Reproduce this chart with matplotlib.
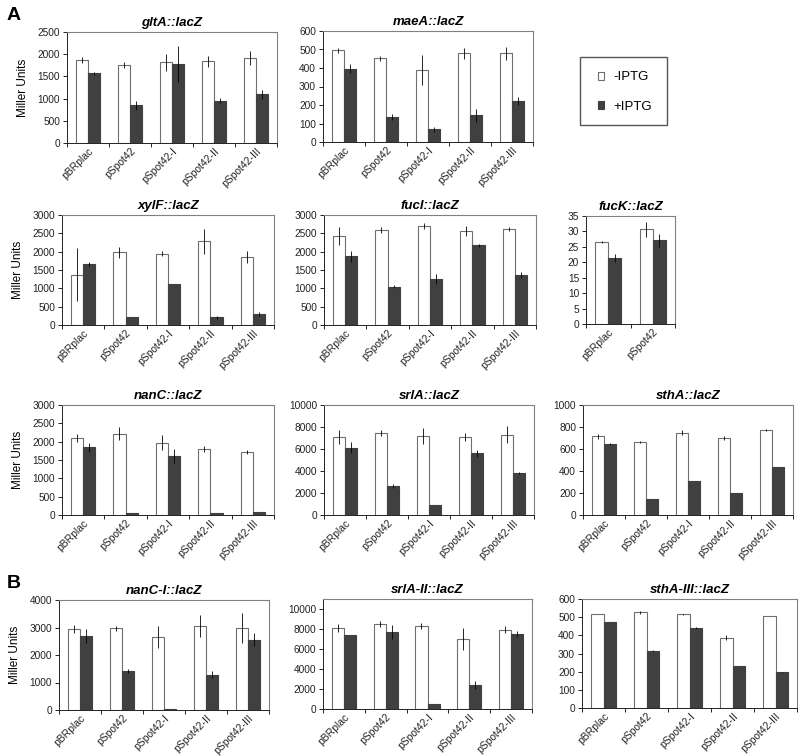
import matplotlib
matplotlib.use("Agg")
import matplotlib.pyplot as plt
from matplotlib.patches import Patch, Rectangle

plt.rcParams['font.family'] = ['Liberation Sans', 'DejaVu Sans']

cats5 = ["pBRplac", "pSpot42", "pSpot42-I", "pSpot42-II", "pSpot42-III"]
cats2 = ["pBRplac", "pSpot42"]

# gltA::lacZ
gltA_minus = [1870, 1760, 1820, 1840, 1920]
gltA_minus_err = [70, 60, 190, 120, 160]
gltA_plus = [1570, 850, 1780, 950, 1100]
gltA_plus_err = [30, 100, 400, 60, 100]

# maeA::lacZ
maeA_minus = [495, 452, 390, 480, 480]
maeA_minus_err = [15, 15, 80, 30, 35]
maeA_plus = [397, 135, 68, 145, 220]
maeA_plus_err = [25, 15, 12, 35, 22]

# xylF::lacZ
xylF_minus = [1370, 1990, 1950, 2280, 1860]
xylF_minus_err = [720, 150, 80, 350, 170]
xylF_plus = [1670, 210, 1130, 210, 300]
xylF_plus_err = [60, 0, 0, 40, 60]

# fucI::lacZ
fucI_minus = [2420, 2580, 2700, 2560, 2620]
fucI_minus_err = [240, 80, 80, 130, 60]
fucI_plus = [1870, 1050, 1260, 2170, 1360]
fucI_plus_err = [140, 30, 140, 40, 80]

# fucK::lacZ
fucK_minus = [26.6, 30.7]
fucK_minus_err = [0.3, 2.5]
fucK_plus = [21.4, 27.1]
fucK_plus_err = [1.2, 2.2]

# nanC::lacZ
nanC_minus = [2100, 2220, 1970, 1800, 1710]
nanC_minus_err = [100, 180, 200, 90, 50]
nanC_plus = [1850, 50, 1610, 50, 70]
nanC_plus_err = [120, 0, 200, 0, 0]

# srlA::lacZ
srlA_minus = [7100, 7450, 7200, 7100, 7300]
srlA_minus_err = [600, 300, 700, 400, 750]
srlA_plus = [6100, 2650, 950, 5600, 3850]
srlA_plus_err = [500, 150, 0, 300, 100]

# sthA::lacZ
sthA_minus = [715, 665, 750, 698, 772]
sthA_minus_err = [20, 10, 25, 20, 12]
sthA_plus = [648, 148, 313, 200, 440]
sthA_plus_err = [10, 0, 0, 0, 0]

# nanC-I::lacZ
nanCI_minus = [2950, 2970, 2640, 3060, 2970]
nanCI_minus_err = [150, 80, 400, 400, 550]
nanCI_plus = [2680, 1420, 50, 1290, 2560]
nanCI_plus_err = [250, 80, 0, 120, 250]

# srlA-II::lacZ
srlAII_minus = [8100, 8500, 8350, 7000, 7950]
srlAII_minus_err = [400, 300, 300, 1100, 350]
srlAII_plus = [7450, 7750, 550, 2450, 7550]
srlAII_plus_err = [0, 700, 0, 400, 300]

# sthA-III::lacZ
sthAIII_minus = [517, 528, 515, 388, 505]
sthAIII_minus_err = [2, 8, 3, 12, 0]
sthAIII_plus = [475, 315, 440, 232, 196]
sthAIII_plus_err = [0, 3, 5, 0, 2]

W, H = 800, 756
fig = plt.figure(figsize=(W / 100, H / 100), dpi=100)

DARK = "#404040"
EDGE = "#6e6e6e"


def rect(l, t, r, b):
    return [l / W, 1 - b / H, (r - l) / W, (b - t) / H]


def panel(box, title, cats, mn, mn_e, pl, pl_e, ymax, ystep, ytop=None, ylabel=False):
    ax = fig.add_axes(rect(*box))
    n = len(cats)
    w = 0.29
    x = list(range(n))
    xm = [i - w / 2 for i in x]
    xp = [i + w / 2 for i in x]
    ax.bar(xm, mn, width=w, color="white", edgecolor=EDGE, linewidth=0.8, zorder=2)
    ax.bar(xp, pl, width=w, color=DARK, edgecolor=DARK, linewidth=0.8, zorder=2)
    ax.errorbar(xm, mn, yerr=mn_e, fmt="none", ecolor="black", elinewidth=0.6, capsize=0, zorder=3)
    ax.errorbar(xp, pl, yerr=pl_e, fmt="none", ecolor="black", elinewidth=0.6, capsize=0, zorder=3)
    ax.set_xlim(-0.5, n - 0.5)
    top = ytop if ytop is not None else ymax
    ax.set_ylim(0, top)
    ticks = []
    v = 0
    while v <= ymax + 1e-9:
        ticks.append(v)
        v += ystep
    ax.set_yticks(ticks)
    ax.set_yticklabels([("%g" % t) for t in ticks], fontsize=7.3, color="#222222")
    ax.set_xticks([i - 0.5 for i in range(n + 1)])
    ax.set_xticklabels([])
    ax.set_xticks(x, minor=True)
    ax.set_xticklabels(cats, minor=True, rotation=45, ha="right", rotation_mode="anchor",
                       fontsize=7.5, color="#222222")
    ax.tick_params(axis="x", which="minor", length=0, pad=2)
    ax.tick_params(axis="x", which="major", direction="out", length=3, width=0.6)
    ax.tick_params(axis="y", direction="out", length=3, width=0.6, pad=2)
    for s in ("top", "right"):
        ax.spines[s].set_color("#808080")
        ax.spines[s].set_linewidth(0.8)
    for s in ("left", "bottom"):
        ax.spines[s].set_color("#222222")
        ax.spines[s].set_linewidth(0.7)
    ax.set_title(title, fontsize=9.5, fontweight="bold", fontstyle="italic", pad=4)
    if ylabel:
        ax.set_ylabel("Miller Units", fontsize=8.5, labelpad=6)
    return ax


panel((67, 32, 277, 143), "gltA::lacZ", cats5, gltA_minus, gltA_minus_err, gltA_plus, gltA_plus_err, 2500, 500, ylabel=True)
panel((323, 31, 533, 142), "maeA::lacZ", cats5, maeA_minus, maeA_minus_err, maeA_plus, maeA_plus_err, 600, 100)

panel((62, 215, 274, 325), "xylF::lacZ", cats5, xylF_minus, xylF_minus_err, xylF_plus, xylF_plus_err, 3000, 500, ylabel=True)
panel((324, 215, 536, 325), "fucI::lacZ", cats5, fucI_minus, fucI_minus_err, fucI_plus, fucI_plus_err, 3000, 500)
panel((586, 216, 675, 324), "fucK::lacZ", cats2, fucK_minus, fucK_minus_err, fucK_plus, fucK_plus_err, 35, 5)

panel((62, 405, 274, 515), "nanC::lacZ", cats5, nanC_minus, nanC_minus_err, nanC_plus, nanC_plus_err, 3000, 500, ylabel=True)
panel((324, 405, 534, 515), "srlA::lacZ", cats5, srlA_minus, srlA_minus_err, srlA_plus, srlA_plus_err, 10000, 2000)
panel((583, 405, 793, 515), "sthA::lacZ", cats5, sthA_minus, sthA_minus_err, sthA_plus, sthA_plus_err, 1000, 200)

panel((59, 600, 269, 710), "nanC-I::lacZ", cats5, nanCI_minus, nanCI_minus_err, nanCI_plus, nanCI_plus_err, 4000, 1000, ylabel=True)
panel((323, 599, 532, 709), "srlA-II::lacZ", cats5, srlAII_minus, srlAII_minus_err, srlAII_plus, srlAII_plus_err, 10000, 2000, ytop=11000)
panel((582, 599, 797, 708), "sthA-III::lacZ", cats5, sthAIII_minus, sthAIII_minus_err, sthAIII_plus, sthAIII_plus_err, 600, 100)

# Panel letters
fig.text(7 / W, 1 - 16 / H, "A", fontsize=14, fontweight="bold", va="center", ha="left")
fig.text(7 / W, 1 - 583 / H, "B", fontsize=14, fontweight="bold", va="center", ha="left")

# Legend box
fig.patches.append(Rectangle((580 / W, 1 - 125 / H), 87 / W, 68 / H, transform=fig.transFigure,
                             facecolor="white", edgecolor="#555555", linewidth=1.0))
handles = [Patch(facecolor="white", edgecolor=EDGE, linewidth=0.8),
           Patch(facecolor=DARK, edgecolor=DARK, linewidth=0.8)]
fig.legend(handles, ["-IPTG", "+IPTG"], loc="center", bbox_to_anchor=(625 / W, 1 - 92 / H),
           frameon=False, fontsize=9.5, labelspacing=1.3, handlelength=0.5, handleheight=0.5,
           handletextpad=0.7)

fig.savefig("out.png", dpi=100)
